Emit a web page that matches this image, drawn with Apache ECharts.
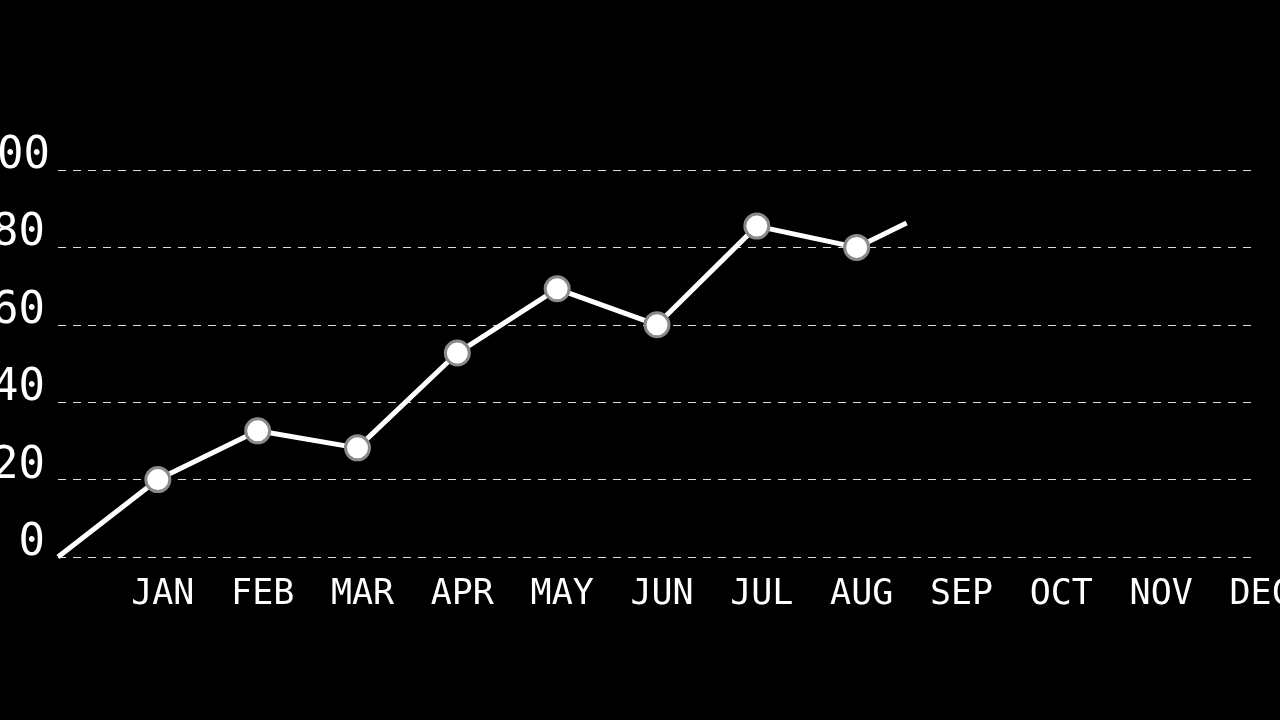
<!DOCTYPE html>
<html>
<head>
<meta charset="utf-8">
<script src="https://cdn.jsdelivr.net/npm/echarts@6/dist/echarts.min.js"></script>
<style>
html,body{margin:0;padding:0;background:#000;}
#chart{width:1280px;height:720px;}
</style>
</head>
<body>
<div id="chart"></div>
<script>
// Month labels for x positions 0..12 (0 = origin, unlabeled)
const monthLabels = ['', 'JAN', 'FEB', 'MAR', 'APR', 'MAY', 'JUN', 'JUL', 'AUG', 'SEP', 'OCT', 'NOV', 'DEC'];
// x positions (month index) of the drawn line; last one is the partially drawn segment toward SEP
const xPositions = [0, 1, 2, 3, 4, 5, 6, 7, 8, 8.5];
// values
const yValues = [0, 20, 32.6, 28.2, 52.7, 69.3, 60, 85.5, 80, 86.3];
// which points carry a marker
const hasMarker = [false, true, true, true, true, true, true, true, true, false];
// y tick labels
const yTicks = [0, 20, 40, 60, 80, 100];

const chart = echarts.init(document.getElementById('chart'));
const seriesData = xPositions.map((x, i) => ({
  value: [x, yValues[i]],
  symbol: hasMarker[i] ? 'circle' : 'none'
}));

chart.setOption({
  backgroundColor: '#000',
  animation: false,
  grid: { left: 58, right: 24, top: 170, bottom: 163, containLabel: false, outerBoundsMode: 'none' },
  xAxis: {
    type: 'value',
    min: 0, max: 12, interval: 1,
    axisLine: { show: false },
    axisTick: { show: false },
    splitLine: { show: false },
    axisLabel: {
      color: '#fff',
      fontFamily: 'DejaVu Sans Mono',
      fontSize: 35,
      margin: 20,
      padding: [0, 0, 0, 10],
      hideOverlap: false,
      formatter: v => monthLabels[Math.round(v)] || ''
    }
  },
  yAxis: {
    type: 'value',
    min: 0, max: 100, interval: 20,
    axisLine: { show: false },
    axisTick: { show: false },
    splitLine: { show: true, lineStyle: { color: '#dcdcdc', width: 1, type: [8, 7] } },
    axisLabel: {
      color: '#fff',
      fontFamily: 'DejaVu Sans Mono',
      fontSize: 44,
      margin: 13,
      verticalAlign: 'bottom',
      lineHeight: 27,
      formatter: v => yTicks.includes(v) ? (v === 100 ? '{h|' + v + '}' : String(v)) : '',
      rich: {
        h: { color: '#fff', fontFamily: 'DejaVu Sans Mono', fontSize: 44, lineHeight: 27, padding: [0, -5, 0, 0] }
      }
    }
  },
  series: [{
    type: 'line',
    data: seriesData,
    symbolSize: 24,
    lineStyle: { color: '#fff', width: 5 },
    itemStyle: { color: '#fff', borderColor: '#8a8a8a', borderWidth: 3 },
    z: 3
  }]
});
</script>
</body>
</html>
